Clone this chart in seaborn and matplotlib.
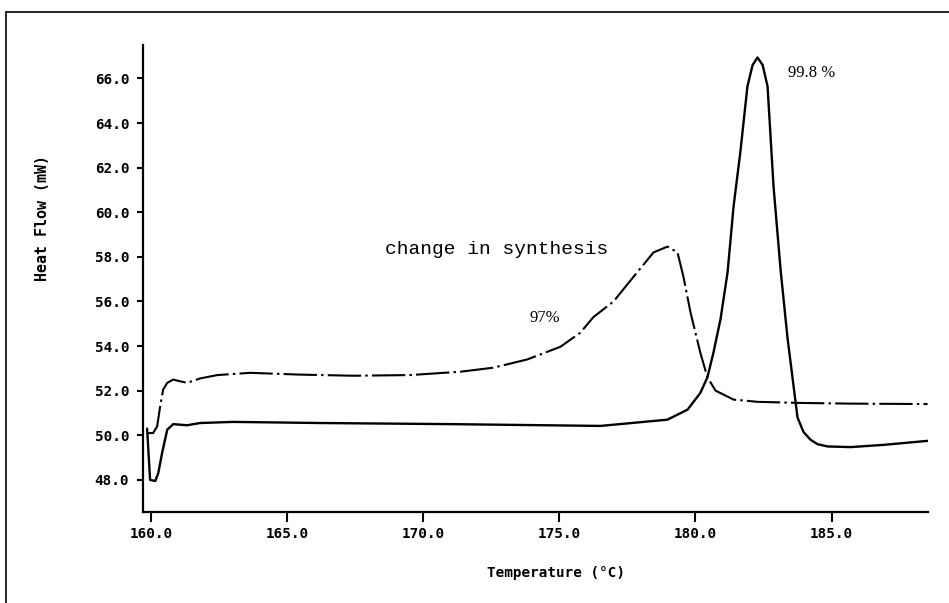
"""
DSC melting curves: 97 % vs 99.8 % purity after change in synthesis
"""
import matplotlib
matplotlib.use("Agg")
import pandas as pd
import seaborn as sns
import matplotlib.pyplot as plt
from matplotlib.lines import Line2D

# 97 % sample (dash-dot curve)
temp_97 = [159.89, 160.07, 160.22, 160.33, 160.44, 160.59, 160.81, 160.96, 161.32, 161.80,
           162.43, 163.64, 165.48, 167.43, 169.52, 171.36, 172.57, 173.82, 175.04, 175.77,
           176.25, 176.99, 177.72, 178.46, 178.97, 179.34, 179.56, 179.82, 180.18, 180.44,
           180.74, 181.40, 182.28, 183.86, 185.70, 188.53]
flow_97 = [50.1, 50.1, 50.4, 51.3, 52.05, 52.35, 52.5, 52.45, 52.35, 52.55,
           52.7, 52.8, 52.72, 52.67, 52.7, 52.85, 53.03, 53.4, 53.97, 54.6,
           55.3, 56.0, 57.1, 58.2, 58.46, 58.2, 57.1, 55.5, 53.7, 52.6,
           52.0, 51.6, 51.5, 51.45, 51.42, 51.4]

# 99.8 % sample (solid curve)
temp_998 = [159.85, 159.96, 160.15, 160.26, 160.40, 160.59, 160.81, 161.32, 161.80, 163.01,
            166.21, 171.0, 176.51, 178.97, 179.71, 180.18, 180.44, 180.66, 180.92, 181.18,
            181.40, 181.65, 181.91, 182.10, 182.28, 182.47, 182.65, 182.87, 183.13, 183.38,
            183.75, 183.97, 184.23, 184.49, 184.85, 185.70, 186.91, 188.53]
flow_998 = [50.3, 48.0, 47.95, 48.3, 49.2, 50.25, 50.5, 50.45, 50.55, 50.6,
            50.55, 50.5, 50.42, 50.7, 51.15, 51.9, 52.6, 53.7, 55.2, 57.3,
            60.25, 62.7, 65.64, 66.6, 66.94, 66.6, 65.64, 61.15, 57.4, 54.4,
            50.8, 50.15, 49.8, 49.6, 49.5, 49.47, 49.57, 49.75]

x_ticks = [160.0, 165.0, 170.0, 175.0, 180.0, 185.0]
y_ticks = [48.0, 50.0, 52.0, 54.0, 56.0, 58.0, 60.0, 62.0, 64.0, 66.0]

df97 = pd.DataFrame({'temp': temp_97, 'flow': flow_97})
df998 = pd.DataFrame({'temp': temp_998, 'flow': flow_998})

sns.set_style('ticks')
plt.rcParams['font.family'] = ['DejaVu Sans Mono', 'DejaVu Sans']
plt.rcParams['text.color'] = 'black'
plt.rcParams['axes.labelcolor'] = 'black'
plt.rcParams['xtick.color'] = 'black'
plt.rcParams['ytick.color'] = 'black'

fig = plt.figure(figsize=(9.49, 6.03), dpi=100)
ax = fig.add_axes([0.1507, 0.1509, 0.8273, 0.7745])

sns.lineplot(data=df97, x='temp', y='flow', sort=False, color='black', lw=1.5, ax=ax)
ax.lines[-1].set_dashes((16, 2, 1.2, 2))
sns.lineplot(data=df998, x='temp', y='flow', sort=False, color='black', lw=1.7, ax=ax)

ax.set_xlim(159.7, 188.55)
ax.set_ylim(46.56, 67.5)
ax.set_xticks(x_ticks)
ax.set_xticklabels([f'{t:.1f}' for t in x_ticks])
ax.set_yticks(y_ticks)
ax.set_yticklabels([f'{t:.1f}' for t in y_ticks])
ax.tick_params(axis='x', length=7, width=1.5, labelsize=10.3, pad=4)
ax.tick_params(axis='y', length=4, width=1.5, labelsize=10.3, pad=6)
for lab in ax.get_xticklabels() + ax.get_yticklabels():
    lab.set_fontweight('bold')
sns.despine(ax=ax)
for s in ('left', 'bottom'):
    ax.spines[s].set_linewidth(1.6)
    ax.spines[s].set_color('black')

ax.set_xlabel('Temperature (°C)', fontsize=10.3, fontweight='bold')
ax.set_ylabel('Heat Flow (mW)', fontsize=10.8, fontweight='bold')
ax.xaxis.set_label_coords(0.526, -0.116)
ax.yaxis.set_label_coords(-0.118, 0.63)

ax.text(168.6, 58.33, 'change in synthesis', family='Liberation Mono', fontsize=14,
        va='center', ha='left')
ax.text(173.9, 55.27, '97%', family='Liberation Serif', fontsize=12, va='center', ha='left')
ax.text(183.4, 66.25, '99.8 %', family='Liberation Serif', fontsize=12, va='center', ha='left')

# scanned page frame
fig.add_artist(Line2D([6 / 949, 1.0], [1 - 12 / 603, 1 - 12 / 603], color='black', lw=1.2,
                      transform=fig.transFigure))
fig.add_artist(Line2D([6 / 949, 6 / 949], [0.0, 1 - 12 / 603], color='black', lw=1.2,
                      transform=fig.transFigure))

fig.savefig('out.png', dpi=100)
